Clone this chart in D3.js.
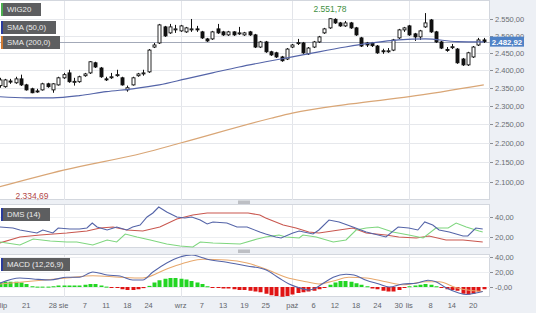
<!DOCTYPE html>
<html>
<head>
<meta charset="utf-8">
<script src="https://cdn.jsdelivr.net/npm/d3@7"></script>
<style>
body { margin: 0; background: #edf0f5; }
svg { display: block; font-family: "Liberation Sans", Arial, sans-serif; }
</style>
</head>
<body>
<script>
// WIG20 daily candles
var open = [2356,2353,2369,2364,2375,2358,2347,2341,2344,2361,
  2344,2358,2378,2392,2367,2367,2384,2392,2421,2406,
  2375,2380,2386,2378,2344,2358,2384,2391,2395,2467,
  2479,2527,2509,2520,2515,2512,2520,2521,2512,2491,
  2491,2521,2512,2503,2512,2507,2503,2512,2503,2467,
  2482,2453,2450,2438,2432,2467,2478,2479,2447,2467,
  2482,2509,2524,2550,2539,2530,2539,2524,2494,2479,
  2479,2470,2456,2454,2458,2494,2518,2530,2506,2497,
  2527,2548,2512,2482,2460,2466,2461,2432,2415,2438,
  2473,2488];
var close = [2372,2372,2366,2375,2358,2344,2336,2339,2361,2353,
  2361,2378,2387,2367,2368,2381,2389,2424,2409,2381,
  2374,2381,2387,2358,2350,2378,2389,2392,2458,2473,
  2533,2500,2527,2521,2530,2524,2521,2519,2494,2485,
  2512,2509,2503,2512,2503,2509,2509,2503,2467,2482,
  2453,2444,2438,2427,2461,2473,2480,2450,2464,2482,
  2497,2521,2551.78,2539,2530,2539,2524,2503,2470,2473,
  2471,2450,2455,2456,2488,2518,2524,2503,2497,2515,
  2539,2512,2482,2464,2458,2468,2421,2415,2450,2467,
  2488,2482.92];
var high = [2378,2375,2375,2381,2387,2361,2350,2347,2364,2364,
  2363,2381,2392,2401,2378,2384,2392,2426,2424,2409,
  2381,2392,2401,2381,2356,2381,2392,2401,2461,2479,
  2536,2530,2536,2533,2533,2527,2551,2530,2515,2494,
  2515,2536,2515,2515,2514,2527,2512,2515,2506,2485,
  2485,2456,2453,2441,2464,2476,2491,2482,2467,2485,
  2500,2524,2553,2553,2542,2545,2542,2527,2497,2482,
  2482,2473,2462,2464,2491,2521,2527,2533,2509,2518,
  2569,2551,2515,2485,2467,2476,2464,2435,2453,2470,
  2494,2494];
var low = [2350,2350,2361,2361,2355,2342,2334.69,2336,2342,2350,
  2336,2356,2375,2364,2356,2364,2381,2389,2406,2378,
  2369,2375,2381,2356,2339,2356,2381,2384,2392,2464,
  2476,2497,2506,2509,2512,2509,2512,2512,2491,2482,
  2488,2506,2500,2500,2500,2503,2500,2500,2464,2464,
  2450,2441,2435,2424,2429,2464,2473,2447,2444,2464,
  2479,2506,2521,2536,2527,2527,2521,2500,2467,2467,
  2467,2447,2447,2450,2455,2491,2512,2500,2485,2488,
  2524,2509,2479,2461,2453,2461,2418,2412,2412,2435,
  2470,2479];

// moving averages [candle index, value]
var sma50 = [[0,2325],[5,2322],[10,2322],[15,2328],[20,2339],[25,2347],[30,2358],
  [35,2375],[40,2392],[45,2409],[50,2424],[55,2438],[60,2453],[65,2467],
  [70,2479],[75,2488],[80,2491],[86,2483],[91,2482]];
var sma200 = [[0,2088],[12,2130],[27,2174],[34,2200],[51,2266],[55,2280],
  [66,2305],[77,2325],[91,2358]];

// DMS (14)
var dmsBlue = [[0,30],[2.5,29],[3.8,27],[7,24],[8.1,27],[10,24],[11,29],[13.2,28],[15,28],
  [16.4,29],[17.4,34],[18.3,30],[20.2,27],[22,30],[23.9,27],[25,30],[26.4,32],[27.7,40],
  [28.8,44],[29.9,50],[31.4,45],[33.3,40],[34.8,39],[36.1,40],[37.7,37],[39,33],[40.1,35],
  [42.7,34],[44.6,30],[46.5,30],[48.9,25],[50,23],[51.9,20],[52.9,19],[55.1,24],[56.3,26],
  [58.9,23],[60,27],[61.9,37],[63.8,35],[66.4,30],[68.9,25],[72.6,20],[74.9,30],[76.9,29],
  [78.6,27],[79.9,35],[81.4,32],[82.6,27],[84.5,25],[87.1,21],[88,21],[89.5,29],[90.8,28]];
var dmsRed = [[0,14],[3.8,20],[7.6,22],[12.6,24],[16.4,26],[18.9,29],[21.3,30],[23.9,27],
  [26.9,26],[30.1,30],[33.3,38],[36.3,42],[39,44],[42.7,44],[46.7,44],[48.9,42],[50,39],
  [53.3,32],[55.7,29],[58.1,25],[60,24],[63.8,27],[66.4,29],[68.9,24],[72.6,22],[75,20],
  [78.3,19],[80.7,21],[83.9,17],[87.1,17],[90.8,15]];
var dmsGreen = [[0,15],[3.8,12],[6.3,18],[9.5,16],[12.6,15],[14.5,15],[17.5,12],[20.2,17],
  [22,15],[23.6,23],[25.8,20],[28.3,17],[31.4,13],[33.9,11],[36.3,10],[37.7,15],[40.1,14],
  [45.2,13],[48.4,18],[50,20],[52.5,22],[53.8,20],[56.3,19],[57,22],[59.5,20],[62.7,15],
  [65.1,17],[67,27],[68.9,29],[71.1,30],[73.9,25],[76.9,22],[79.6,19],[82,29],[84.3,29],
  [85.8,34],[87.7,30],[90.1,26],[90.8,25]];

// MACD (12,26,9)
var macdLine = [[0,5],[3.8,12],[6.3,10.7],[9.5,9.3],[12.6,13],[15,13],[17.5,20],[20.2,16],
  [22.6,14.7],[25,9.3],[26.9,9.3],[28.8,20],[31.4,32],[33.9,40],[36.1,42.7],[37.7,40],
  [39,37],[42.7,33],[46.5,28],[50,23],[52.5,12],[54.4,4],[56.3,-1],[58.1,-4],[59.5,-1],
  [60.8,5],[62.7,13],[65.1,17],[66.6,16],[68.9,9],[71.3,4],[73.2,0],[75.8,4],[78.3,5],
  [80.5,9],[82,7],[83.9,-1],[86.3,-8],[87.7,-10],[89.5,-8],[90.8,-6]];
var macdSignal = [[0,4],[6.3,8],[12.6,12],[17.5,15],[22.6,13],[26.9,12],[31.4,24],[35.2,33],
  [38.2,37],[42.7,36],[46.5,32],[50,24],[53.8,13],[57.6,7],[60,4],[62.7,8],[65.6,13],
  [68.9,12],[72.6,7],[75.8,3],[80.1,7],[82.6,7],[85.8,-1],[89,-5],[90.8,-6]];
var macdHist = [6,7,7,7,6,4,1,0.5,0.5,0.5,
  1,2,2,2,2,2,3,4,4,2,
  0.5,-0.5,-1,-3,-4,-4,-3,-1.5,1.5,6,
  9,11,12,12,11,10,8,6,4,1,
  -0.5,-1,-2,-2,-3,-4,-4,-5,-6,-7,
  -9,-11,-12,-13,-12,-10,-8,-7,-6,-5,
  -3,-1,3,6,8,8,7,5,3,1,
  -2,-3,-5,-6,-6,-4,-1,1,2,3,
  4,3,1,-1,-3,-4,-5,-9,-10,-9,
  -6,-3];

var mainTicks = [2100,2150,2200,2250,2300,2350,2400,2450,2500,2550];
var dmsTicks = [20,40];
var macdTicks = [0,20,40];
var macdTickLabels = ["-0,00","20,00","40,00"];
var monthIdx = [12,34,55,77];
var xTickIdx = [0,5,10,12,16,20,24,28,34,38,42,46,50,55,59,63,67,71,75,77,81,85,89];
var xTickLabels = ["lip","21","28","sie","7","11","18","24","wrz","7","13","19","25",
  "paź","6","12","18","24","30","lis","8","14","20"];
var lastPrice = 2482.92;

var W = 536, H = 313, plotW = 490;
var pl = d3.formatLocale({decimal: ",", thousands: ".", grouping: [3], currency: ["", ""]});
var fmt = pl.format(",.2f");

var svg = d3.select("body").append("svg").attr("width", W).attr("height", H);

var xi = d3.scaleLinear().domain([0, 91]).range([-0.32, 483.8]);
var yMain = d3.scaleLog().domain([2100, 2550]).range([182, 19.3]);
var yDms = d3.scaleLinear().domain([20, 40]).range([237, 217]);
var yMacd = d3.scaleLinear().domain([0, 40]).range([287, 257]);

var panels = [
  {id: "pMain", y0: 1, y1: 200},
  {id: "pDms", y0: 205, y1: 248},
  {id: "pMacd", y0: 255, y1: 297}
];

var defs = svg.append("defs");
panels.forEach(function(p) {
  defs.append("clipPath").attr("id", p.id)
    .append("rect").attr("x", 0).attr("y", p.y0).attr("width", plotW).attr("height", p.y1 - p.y0);
  svg.append("rect")
    .attr("x", -1).attr("y", p.y0 - 0.5).attr("width", plotW + 0.5).attr("height", p.y1 - p.y0)
    .attr("fill", "#fff").attr("stroke", "#d3d7de");
  // vertical month gridlines
  svg.append("g").attr("clip-path", "url(#" + p.id + ")")
    .selectAll("line").data(monthIdx).enter().append("line")
    .attr("x1", function(d) { return Math.round(xi(d)) + 0.5; })
    .attr("x2", function(d) { return Math.round(xi(d)) + 0.5; })
    .attr("y1", p.y0).attr("y2", p.y1)
    .attr("stroke", "#e3e5ea");
});

// panel drag handles
[202, 251].forEach(function(y) {
  svg.append("rect").attr("x", 238).attr("y", y - 1.5).attr("width", 12).attr("height", 3.5)
    .attr("fill", "#bdbfc4");
});

// ---- main panel ----
var gMain = svg.append("g").attr("clip-path", "url(#pMain)");

gMain.selectAll("line.grid").data(mainTicks).enter().append("line")
  .attr("class", "grid")
  .attr("x1", 0).attr("x2", plotW)
  .attr("y1", function(d) { return Math.round(yMain(d)) + 0.5; })
  .attr("y2", function(d) { return Math.round(yMain(d)) + 0.5; })
  .attr("stroke", "#e6e8ec");

gMain.append("line")
  .attr("x1", 0).attr("x2", plotW)
  .attr("y1", Math.round(yMain(lastPrice)) + 0.5).attr("y2", Math.round(yMain(lastPrice)) + 0.5)
  .attr("stroke", "#a3a9b8");

var lineMain = d3.line()
  .x(function(d) { return xi(d[0]); })
  .y(function(d) { return yMain(d[1]); })
  .curve(d3.curveMonotoneX);

gMain.append("path").datum(sma200).attr("d", lineMain)
  .attr("fill", "none").attr("stroke", "#d9a676").attr("stroke-width", 1.2);

var candles = d3.range(open.length);
var cg = gMain.selectAll("g.candle").data(candles).enter().append("g").attr("class", "candle");
cg.append("line")
  .attr("x1", function(i) { return Math.round(xi(i)) + 0.5; })
  .attr("x2", function(i) { return Math.round(xi(i)) + 0.5; })
  .attr("y1", function(i) { return yMain(high[i]); })
  .attr("y2", function(i) { return yMain(low[i]); })
  .attr("stroke", "#111");
cg.append("rect")
  .attr("x", function(i) { return Math.round(xi(i)) - 1; })
  .attr("width", 3)
  .attr("y", function(i) { return yMain(Math.max(open[i], close[i])); })
  .attr("height", function(i) { return Math.max(1, Math.abs(yMain(open[i]) - yMain(close[i]))); })
  .attr("fill", function(i) { return close[i] >= open[i] ? "#fff" : "#111"; })
  .attr("stroke", "#111").attr("stroke-width", 0.9);

gMain.append("path").datum(sma50).attr("d", lineMain)
  .attr("fill", "none").attr("stroke", "#5464a8").attr("stroke-width", 1.2);

svg.append("text").attr("x", 330).attr("y", 12).attr("text-anchor", "middle")
  .attr("font-size", 8.5).attr("fill", "#3f8f3f").text("2.551,78");
svg.append("text").attr("x", 32).attr("y", 198.5).attr("text-anchor", "middle")
  .attr("font-size", 8.5).attr("fill", "#b24848").text("2.334,69");

// ---- DMS panel ----
var gDms = svg.append("g").attr("clip-path", "url(#pDms)");
gDms.selectAll("line").data(dmsTicks).enter().append("line")
  .attr("x1", 0).attr("x2", plotW)
  .attr("y1", function(d) { return Math.round(yDms(d)) + 0.5; })
  .attr("y2", function(d) { return Math.round(yDms(d)) + 0.5; })
  .attr("stroke", "#eceef1");
var lineDms = d3.line().x(function(d) { return xi(d[0]); }).y(function(d) { return yDms(d[1]); });
[[dmsRed, "#c9574f"], [dmsGreen, "#7fd67f"], [dmsBlue, "#5464a8"]].forEach(function(s) {
  gDms.append("path").datum(s[0]).attr("d", lineDms)
    .attr("fill", "none").attr("stroke", s[1]).attr("stroke-width", 1.1);
});

// ---- MACD panel ----
var gMacd = svg.append("g").attr("clip-path", "url(#pMacd)");
gMacd.selectAll("line").data(macdTicks).enter().append("line")
  .attr("x1", 0).attr("x2", plotW)
  .attr("y1", function(d) { return Math.round(yMacd(d)) + 0.5; })
  .attr("y2", function(d) { return Math.round(yMacd(d)) + 0.5; })
  .attr("stroke", "#eceef1");
gMacd.selectAll("rect.hist").data(candles).enter().append("rect")
  .attr("class", "hist")
  .attr("x", function(i) { return Math.round(xi(i)) - 1.5; })
  .attr("width", 4)
  .attr("y", function(i) { return yMacd(Math.max(0, macdHist[i])); })
  .attr("height", function(i) { return Math.max(1, Math.abs(yMacd(macdHist[i]) - yMacd(0))); })
  .attr("fill", function(i) { return macdHist[i] >= 0 ? "#22d622" : "#e01414"; });
var lineMacd = d3.line().x(function(d) { return xi(d[0]); }).y(function(d) { return yMacd(d[1]); })
  .curve(d3.curveMonotoneX);
gMacd.append("path").datum(macdSignal).attr("d", lineMacd)
  .attr("fill", "none").attr("stroke", "#e8a86c").attr("stroke-width", 1.1);
gMacd.append("path").datum(macdLine).attr("d", lineMacd)
  .attr("fill", "none").attr("stroke", "#5464a8").attr("stroke-width", 1.1);

// ---- right axes ----
var axisG = svg.append("g").attr("font-size", 7.5).attr("fill", "#6a6d73");
function rightAxis(ticks, scale, labels) {
  ticks.forEach(function(t, k) {
    var y = Math.round(scale(t)) + 0.5;
    axisG.append("line").attr("x1", plotW).attr("x2", plotW + 3).attr("y1", y).attr("y2", y)
      .attr("stroke", "#8a8d93");
    axisG.append("text").attr("x", plotW + 5).attr("y", y + 2.7)
      .text(labels ? labels[k] : fmt(t));
  });
}
rightAxis(mainTicks, yMain);
rightAxis(dmsTicks, yDms);
rightAxis(macdTicks, yMacd, macdTickLabels);

// last price tag
var ty = yMain(lastPrice);
svg.append("rect").attr("x", 490).attr("y", ty - 5).attr("width", 34).attr("height", 10)
  .attr("fill", "#4f82c6");
svg.append("text").attr("x", 507).attr("y", ty + 3).attr("text-anchor", "middle")
  .attr("font-size", 7.8).attr("font-weight", "bold").attr("fill", "#fff")
  .text(fmt(lastPrice));

// ---- x axis ----
svg.append("g").attr("font-size", 7.5).attr("fill", "#62656b").attr("text-anchor", "middle")
  .selectAll("text").data(xTickIdx).enter().append("text")
  .attr("x", function(d) { return Math.max(xi(d), 3.5); })
  .attr("y", 308)
  .text(function(d, k) { return xTickLabels[k]; });

// ---- legend badges ----
var badges = [
  {t: "WIG20", y: 3, w: 40, c: "#4caf50"},
  {t: "SMA (50,0)", y: 21, w: 55, c: "#2a3b9c"},
  {t: "SMA (200,0)", y: 36, w: 59, c: "#d07a34"},
  {t: "DMS (14)", y: 208, w: 49, c: "#2a3b9c"},
  {t: "MACD (12,26,9)", y: 258, w: 69, c: "#2a3b9c"}
];
var bg = svg.selectAll("g.badge").data(badges).enter().append("g").attr("class", "badge");
bg.append("rect").attr("x", 1).attr("y", function(d) { return d.y; })
  .attr("width", function(d) { return d.w; }).attr("height", 13).attr("fill", "#5d5e60");
bg.append("rect").attr("x", 1).attr("y", function(d) { return d.y; })
  .attr("width", 2).attr("height", 13).attr("fill", function(d) { return d.c; });
bg.append("text").attr("x", 7).attr("y", function(d) { return d.y + 9.3; })
  .attr("font-size", 7.8).attr("fill", "#ececec")
  .text(function(d) { return d.t; });
</script>
</body>
</html>
